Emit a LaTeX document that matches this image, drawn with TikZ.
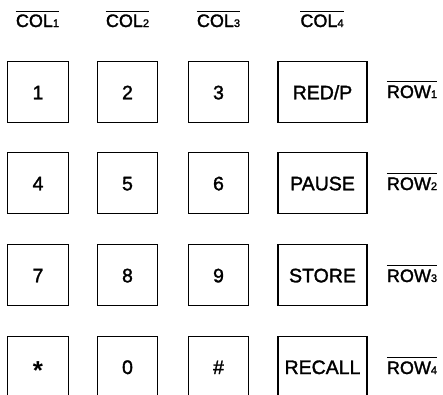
\documentclass[tikz,border=0pt]{standalone}
\usepackage{fontspec}
\setmainfont{Liberation Sans}[BoldFont=Liberation Sans, BoldFeatures={FakeBold=1.6}]
\newfontfamily\starfont{Liberation Sans Bold}
\newcommand\subnum[1]{{\fontsize{11}{11}\selectfont #1}}
\tikzset{
  keybox/.style={draw, line width=1.2pt, inner sep=0pt, minimum height=61pt,
    font=\fontsize{19.5}{19.5}\selectfont\bfseries, text height=14pt, text depth=0pt},
  narrow/.style={keybox, minimum width=60.5pt},
  wide/.style={keybox, minimum width=89pt},
  sig/.style={inner sep=0pt, anchor=base, font=\fontsize{18}{18}\selectfont\bfseries},
  bar/.style={line width=1pt}
}
\begin{document}
\begin{tikzpicture}[x=1pt,y=-1pt]
\useasboundingbox (0,0) rectangle (443,394);
\clip (0,0) rectangle (443,394);
% column labels
\foreach \n/\x in {1/37.5,2/127.5,3/218.5,4/322}{
  \node[sig] (c\n) at (\x,27) {COL\subnum{\n}};
  \draw[bar] ([yshift=15.5pt]c\n.base west) -- ([yshift=15.5pt]c\n.base east);
}
% row labels
\foreach \n/\y in {1/98,2/190,3/282,4/374}{
  \node[sig] (r\n) at (412,\y) {ROW\subnum{\n}};
  \draw[bar] ([yshift=16.5pt]r\n.base west) -- ([yshift=16.5pt]r\n.base east);
}
% keys
\node[narrow] (k1) at (38,92.3) {1};
\node[narrow] (k2) at (127.5,92.3) {2};
\node[narrow] (k3) at (218.5,92.3) {3};
\node[wide] (kr) at (322.5,92.3) {RED/P};
\node[narrow] (k4) at (38,183.3) {4};
\node[narrow] (k5) at (127.5,183.3) {5};
\node[narrow] (k6) at (218.5,183.3) {6};
\node[wide] (kp) at (322.5,183.3) {PAUSE};
\node[narrow] (k7) at (38,275.3) {7};
\node[narrow] (k8) at (127.5,275.3) {8};
\node[narrow] (k9) at (218.5,275.3) {9};
\node[wide] (ks) at (322.5,275.3) {STORE};
\node[narrow] (kst) at (38,367) {\fontsize{26}{26}\starfont\raisebox{-5pt}{*}};
\node[narrow] (k0) at (127.5,367) {0};
\node[narrow] (kh) at (218.5,367) {\#};
\node[wide] (kc) at (322.5,367) {RECALL};
\end{tikzpicture}
\end{document}
